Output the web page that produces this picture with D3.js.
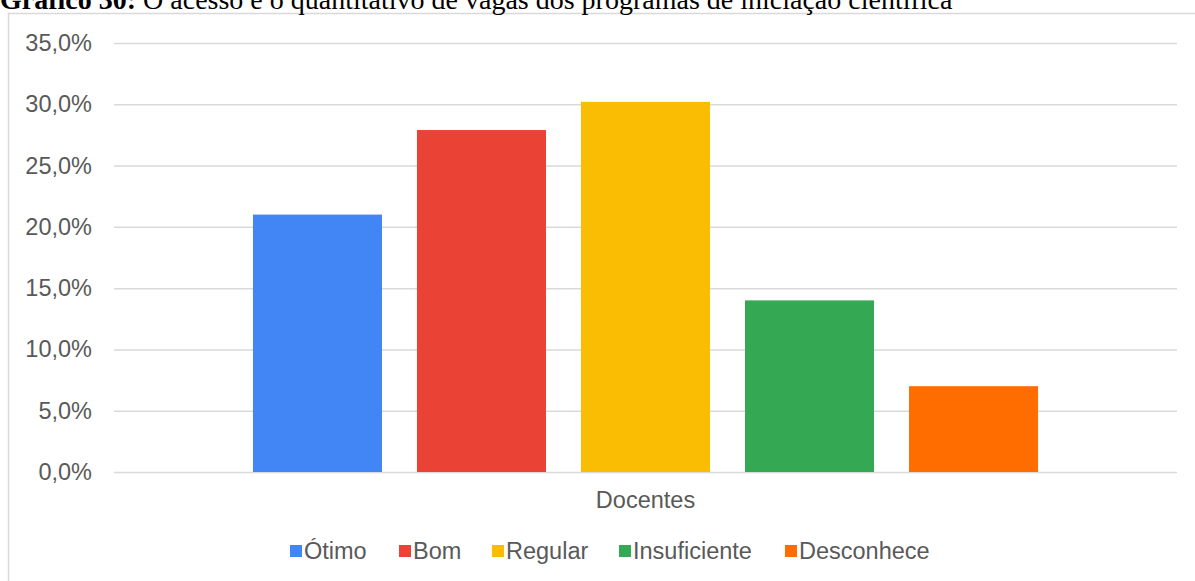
<!DOCTYPE html>
<html>
<head>
<meta charset="utf-8">
<script src="https://cdn.jsdelivr.net/npm/d3@7"></script>
<style>
  body { margin: 0; background: #fff; overflow: hidden; }
  svg { display: block; }
</style>
</head>
<body>
<div id="chart"></div>
<script>
// Data
const categories = ["Docentes"];
const series = ["Ótimo", "Bom", "Regular", "Insuficiente", "Desconhece"];
const values = [0.21, 0.279, 0.302, 0.14, 0.07];
const colors = ["#4285f4", "#ea4335", "#fbbc04", "#34a853", "#ff6d01"];
const yTicks = [0, 0.05, 0.10, 0.15, 0.20, 0.25, 0.30, 0.35];

var width = 1195, height = 581;
var margin = {top: 43, right: 18, bottom: 109, left: 114};
var sans = "'Liberation Sans', Arial, sans-serif";
var fontSize = 23.5;

var svg = d3.select("#chart")
  .append("svg")
    .attr("width", width)
    .attr("height", height);

// chart area border (right/bottom edges run off the page)
svg.append("rect")
  .attr("x", 8.5).attr("y", 13.5)
  .attr("width", 1200).attr("height", 600)
  .attr("fill", "none")
  .attr("stroke", "#d9d9d9")
  .attr("stroke-width", 1.5);

// title, clipped at the top like the source
var title = svg.append("text")
  .attr("x", 0).attr("y", 9)
  .attr("font-family", "'Liberation Serif', 'Times New Roman', serif")
  .attr("font-size", 28)
  .attr("fill", "#000");
title.append("tspan").attr("font-weight", "bold").text("Gráfico 30:");
title.append("tspan").text(" O acesso e o quantitativo de vagas dos programas de iniciação científica");

// scales
const x0 = d3.scaleBand()
  .domain(categories)
  .range([margin.left, width - margin.right])
  .paddingOuter(0.177);

const x1 = d3.scaleBand()
  .domain(series)
  .range([0, x0.bandwidth()])
  .paddingInner(0.2134)
  .paddingOuter(0);

const y = d3.scaleLinear()
  .domain([0, 0.35])
  .range([height - margin.bottom, margin.top]);

const fmt = v => d3.format(".1f")(v * 100).replace(".", ",") + "%";

// gridlines + y labels
const yaxis = svg.append("g")
  .attr("transform", "translate(" + margin.left + ",0)")
  .call(d3.axisLeft(y).tickValues(yTicks).tickFormat(fmt)
        .tickSize(-(width - margin.left - margin.right)).tickPadding(22));
yaxis.select(".domain").remove();
yaxis.selectAll(".tick line").attr("stroke", "#d9d9d9").attr("stroke-width", 1.5);
yaxis.selectAll(".tick text")
  .attr("font-family", sans)
  .attr("font-size", fontSize)
  .attr("fill", "#595959");

// bars
const rows = series.map((s, i) => ({cat: categories[0], name: s, value: values[i], color: colors[i]}));
svg.append("g").selectAll("rect")
  .data(rows)
  .join("rect")
    .attr("x", d => x0(d.cat) + x1(d.name))
    .attr("y", d => y(d.value))
    .attr("width", x1.bandwidth())
    .attr("height", d => y(0) - y(d.value))
    .attr("fill", d => d.color);

// category label
const xaxis = svg.append("g")
  .attr("transform", "translate(0," + y(0) + ")")
  .call(d3.axisBottom(x0).tickSize(0).tickPadding(19));
xaxis.select(".domain").remove();
xaxis.selectAll(".tick text")
  .attr("font-family", sans)
  .attr("font-size", fontSize)
  .attr("fill", "#595959");

// legend
const legendX = [290, 399, 492, 619, 785];
const legend = svg.append("g").selectAll("g")
  .data(rows)
  .join("g")
    .attr("transform", (d, i) => "translate(" + legendX[i] + ",545)");
legend.append("rect")
  .attr("width", 12).attr("height", 12)
  .attr("fill", d => d.color);
legend.append("text")
  .attr("x", 14).attr("y", 6)
  .attr("dy", "0.35em")
  .attr("font-family", sans)
  .attr("font-size", fontSize)
  .attr("fill", "#595959")
  .text(d => d.name);
</script>
</body>
</html>
